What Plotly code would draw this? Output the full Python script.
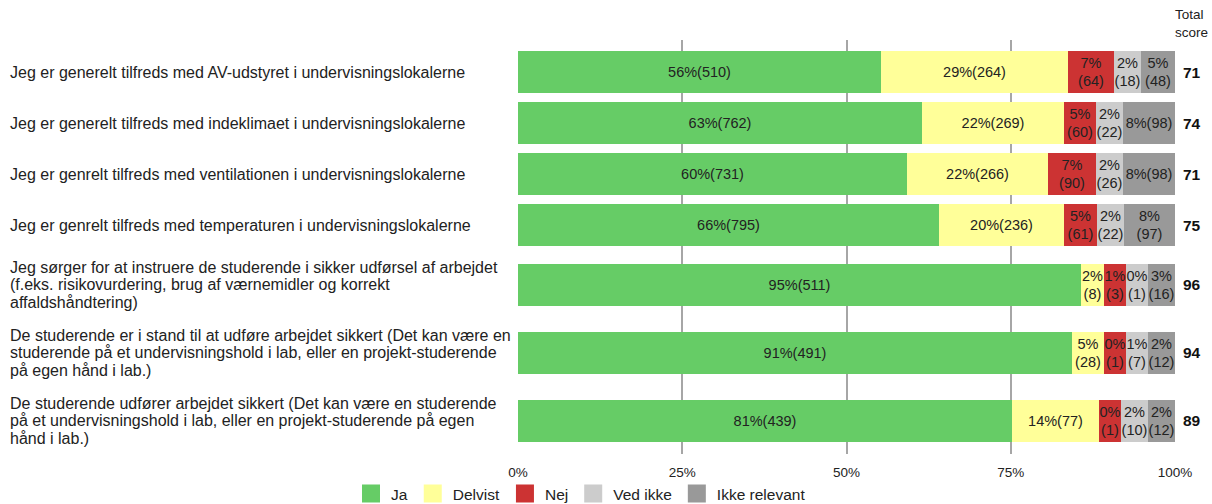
import plotly.graph_objects as go

# ---------------- data ----------------
questions = [
    "Jeg er generelt tilfreds med AV-udstyret i undervisningslokalerne",
    "Jeg er generelt tilfreds med indeklimaet i undervisningslokalerne",
    "Jeg er genrelt tilfreds med ventilationen i undervisningslokalerne",
    "Jeg er genrelt tilfreds med temperaturen i undervisningslokalerne",
    "Jeg sørger for at instruere de studerende i sikker udførsel af arbejdet<br>(f.eks. risikovurdering, brug af værnemidler og korrekt<br>affaldshåndtering)",
    "De studerende er i stand til at udføre arbejdet sikkert (Det kan være en<br>studerende på et undervisningshold i lab, eller en projekt-studerende<br>på egen hånd i lab.)",
    "De studerende udfører arbejdet sikkert (Det kan være en studerende<br>på et undervisningshold i lab, eller en projekt-studerende på egen<br>hånd i lab.)",
]
series_names = ["Ja", "Delvist", "Nej", "Ved ikke", "Ikke relevant"]
series_colors = ["#66cc66", "#ffff99", "#cc3333", "#cccccc", "#999999"]

ja_counts = [510, 762, 731, 795, 511, 491, 439]
delvist_counts = [264, 269, 266, 236, 8, 28, 77]
nej_counts = [64, 60, 90, 61, 3, 1, 1]
vedikke_counts = [18, 22, 26, 22, 1, 7, 10]
ikkerel_counts = [48, 98, 98, 97, 16, 12, 12]

ja_pct = [56, 63, 60, 66, 95, 91, 81]
delvist_pct = [29, 22, 22, 20, 2, 5, 14]
nej_pct = [7, 5, 7, 5, 1, 0, 0]
vedikke_pct = [2, 2, 2, 2, 0, 1, 2]
ikkerel_pct = [5, 8, 8, 8, 3, 2, 2]

total_score = [71, 74, 71, 75, 96, 94, 89]

x_tick_vals = [0, 25, 50, 75, 100]
x_tick_text = ["0%", "25%", "50%", "75%", "100%"]

counts = [ja_counts, delvist_counts, nej_counts, vedikke_counts, ikkerel_counts]
pcts = [ja_pct, delvist_pct, nej_pct, vedikke_pct, ikkerel_pct]

# ---------------- layout constants ----------------
FONT = "Liberation Sans, Arial, sans-serif"
W, H = 1212, 504
ML, MR, MT, MB = 518, 37, 40, 50
PLOT_W = W - ML - MR
PLOT_H = H - MT - MB
LABEL_FS = 14.5
Q_FS = 16
Q_LINE = 17.5

CW = {c: 0.556 for c in "0123456789"}
CW.update({"%": 0.889, "(": 0.333, ")": 0.333})


def text_w(s, fs=14):
    return sum(CW.get(c, 0.556) for c in s) * fs


n_rows = len(questions)
n_ser = len(series_names)

# display widths (in % of axis) with a minimum width so labels fit
disp = [[0.0] * n_rows for _ in range(n_ser)]
labels = [[""] * n_rows for _ in range(n_ser)]
for r in range(n_rows):
    tot = sum(counts[s][r] for s in range(n_ser))
    share = [counts[s][r] / tot * 100 for s in range(n_ser)]
    ptxt = [f"{pcts[s][r]}%" for s in range(n_ser)]
    ctxt = [f"({counts[s][r]})" for s in range(n_ser)]
    need = [(max(text_w(ptxt[s]), text_w(ctxt[s])) + 2) / PLOT_W * 100 for s in range(n_ser)]
    fixed = [False] * n_ser
    w = share[:]
    for _ in range(5):
        for s in range(n_ser):
            if not fixed[s] and w[s] < need[s]:
                fixed[s] = True
                w[s] = need[s]
        fsum = sum(w[s] for s in range(n_ser) if fixed[s])
        osum = sum(share[s] for s in range(n_ser) if not fixed[s])
        for s in range(n_ser):
            if not fixed[s]:
                w[s] = share[s] * (100 - fsum) / osum
    for s in range(n_ser):
        disp[s][r] = w[s]
        px = w[s] / 100 * PLOT_W
        one = ptxt[s] + ctxt[s]
        if px >= text_w(one) + 6.5:
            labels[s][r] = one
        else:
            labels[s][r] = ptxt[s] + "<br>" + ctxt[s]

# row positions depend on number of label lines
slot = []
for q in questions:
    nl = q.count("<br>") + 1
    slot.append(51 if nl == 1 else 68)
ypos = []
acc = 6.5
for h in slot:
    ypos.append(acc + h / 2)
    acc += h

fig = go.Figure()
for s in range(n_ser):
    fig.add_trace(go.Bar(
        orientation="h",
        x=disp[s],
        y=ypos,
        width=42,
        marker=dict(color=series_colors[s], line=dict(width=0)),
        text=labels[s],
        textposition="inside",
        insidetextanchor="middle",
        textangle=0,
        textfont=dict(family=FONT, size=LABEL_FS, color="#222222"),
        showlegend=False,
        hoverinfo="skip",
    ))
    fig.add_trace(go.Scatter(
        x=[None], y=[None], mode="markers", name=series_names[s],
        marker=dict(symbol="square", size=17, color=series_colors[s],
                    line=dict(width=2, color=series_colors[s])),
    ))

annotations = []
for r, q in enumerate(questions):
    lines = q.split("<br>")
    n = len(lines)
    for i, ln in enumerate(lines):
        annotations.append(dict(
            text=ln, xref="paper", yref="y", x=(8 - ML) / PLOT_W,
            y=ypos[r] + (i - (n - 1) / 2) * Q_LINE,
            xanchor="left", yanchor="middle", align="left", showarrow=False,
            font=dict(family=FONT, size=Q_FS, color="#222222"),
        ))
    annotations.append(dict(
        text=f"<b>{total_score[r]}</b>", xref="paper", yref="y",
        x=(1181 - ML) / PLOT_W, y=ypos[r], xanchor="left", yanchor="middle",
        showarrow=False, font=dict(family=FONT, size=15.5, color="#111111"),
    ))
for i, ln in enumerate(["Total", "score"]):
    annotations.append(dict(
        text=ln, xref="paper", yref="paper",
        x=(1173 - ML) / PLOT_W, y=1 + (MT - 15 - 18 * i) / PLOT_H, xanchor="left",
        yanchor="middle", align="left", showarrow=False,
        font=dict(family=FONT, size=13.5, color="#222222"),
    ))

fig.update_layout(
    width=W, height=H,
    margin=dict(l=ML, r=MR, t=MT, b=MB, pad=0, autoexpand=False),
    barmode="stack",
    bargap=0,
    plot_bgcolor="white",
    paper_bgcolor="white",
    font=dict(family=FONT, size=13, color="#222222"),
    uniformtext=dict(mode="show", minsize=LABEL_FS),
    xaxis=dict(
        range=[0, 100], tickvals=x_tick_vals, ticktext=x_tick_text,
        showgrid=True, gridcolor="#a6a6a6", gridwidth=2,
        zeroline=False, showline=False,
        ticks="outside", ticklen=6, tickcolor="rgba(0,0,0,0)",
        tickfont=dict(family=FONT, size=13.5, color="#222222"),
        fixedrange=True, automargin=False,
    ),
    yaxis=dict(
        range=[PLOT_H, 0], showticklabels=False, showgrid=False,
        zeroline=False, showline=False, ticks="", fixedrange=True,
        automargin=False,
    ),
    legend=dict(
        orientation="h", xref="paper", yref="paper",
        x=(581 - ML) / PLOT_W, xanchor="center",
        y=-(H - MT - PLOT_H + 7) / PLOT_H, yanchor="bottom",
        bgcolor="rgba(0,0,0,0)",
        font=dict(family=FONT, size=15.5, color="#222222"),
        itemwidth=30, traceorder="normal",
    ),
    annotations=annotations,
)

fig.write_html("out.html", config={"displayModeBar": False},
               post_script="document.body.style.margin='0';")
